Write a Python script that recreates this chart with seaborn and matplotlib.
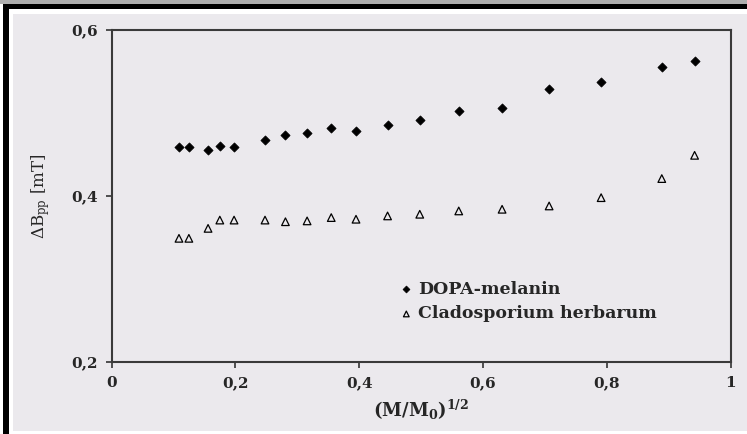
import matplotlib
matplotlib.use("Agg")
import matplotlib.pyplot as plt
from matplotlib.patches import Rectangle
import seaborn as sns
import pandas as pd

# ---- data ----
x_vals = [0.109, 0.125, 0.156, 0.175, 0.198, 0.248, 0.281, 0.316, 0.355,
          0.395, 0.446, 0.498, 0.561, 0.631, 0.707, 0.791, 0.889, 0.942]
dopa_melanin = [0.459, 0.459, 0.455, 0.460, 0.459, 0.467, 0.474, 0.476, 0.482,
                0.478, 0.486, 0.491, 0.503, 0.506, 0.529, 0.537, 0.555, 0.563]
cladosporium = [0.349, 0.349, 0.361, 0.371, 0.371, 0.371, 0.369, 0.370, 0.374,
                0.372, 0.376, 0.378, 0.382, 0.384, 0.388, 0.398, 0.421, 0.449]
series_names = ["DOPA-melanin", "Cladosporium herbarum"]
x_ticks = [0, 0.2, 0.4, 0.6, 0.8, 1.0]
x_ticklabels = ["0", "0,2", "0,4", "0,6", "0,8", "1"]
y_ticks = [0.2, 0.4, 0.6]
y_ticklabels = ["0,2", "0,4", "0,6"]

df_dopa = pd.DataFrame({"x": x_vals, "y": dopa_melanin})
df_clad = pd.DataFrame({"x": x_vals, "y": cladosporium})

sns.set_style("white")
plt.rcParams["font.family"] = ["DejaVu Serif"]
plt.rcParams["mathtext.fontset"] = "custom"
plt.rcParams["mathtext.rm"] = "DejaVu Serif"
plt.rcParams["mathtext.it"] = "DejaVu Serif"
plt.rcParams["mathtext.bf"] = "DejaVu Serif:bold"

W, H = 747, 434
fig = plt.figure(figsize=(W / 100, H / 100), dpi=100)
fig.patch.set_facecolor("white")

def px_rect(x0, y0, x1, y1, color, z=-10):
    fig.patches.append(Rectangle((x0 / W, 1 - y1 / H), (x1 - x0) / W, (y1 - y0) / H,
                                 transform=fig.transFigure, facecolor=color,
                                 edgecolor="none", zorder=z))

panel = "#ebe9ed"
px_rect(0, 0, W, 4, "#aeaeae")          # top gray strip
px_rect(13, 14, W, 431, panel)         # panel
px_rect(3, 4, W, 9, "black")            # top black border
px_rect(3, 4, 9, H, "black")            # left black border

ax = fig.add_axes([111.5 / W, 1 - 362 / H, (730.5 - 111.5) / W, (362 - 30) / H])
ax.set_zorder(5)
ax.set_facecolor(panel)

sns.scatterplot(data=df_dopa, x="x", y="y", ax=ax, marker="D", s=22,
                color="black", edgecolor="black", linewidth=0.5,
                label=series_names[0], zorder=3)
sns.scatterplot(data=df_clad, x="x", y="y", ax=ax, marker="^", s=30,
                facecolor="none", edgecolor="black", linewidth=0.9,
                label=series_names[1], zorder=3)

ax.set_xlim(0, 1)
ax.set_ylim(0.2, 0.6)
ax.set_xticks(x_ticks)
ax.set_xticklabels(x_ticklabels)
ax.set_yticks(y_ticks)
ax.set_yticklabels(y_ticklabels)
for lab in ax.get_xticklabels() + ax.get_yticklabels():
    lab.set_fontweight("bold")
    lab.set_fontsize(11)
ax.tick_params(axis="both", direction="out", length=4, width=1.2, color="#333333",
               left=True, bottom=True)
ax.tick_params(axis="x", pad=6)
ax.tick_params(axis="y", pad=6)

for sp in ax.spines.values():
    sp.set_color("#3a3a3a")
    sp.set_linewidth(1.5)
    sp.set_visible(True)

ax.set_xlabel(r"$\mathbf{(M/M_0)^{1/2}}$", fontsize=13, labelpad=6)
ax.set_ylabel(r"$\Delta$B$_{\mathrm{pp}}$ [mT]", fontsize=12, labelpad=14)

leg = ax.legend(loc="upper left", bbox_to_anchor=(0.437, 0.292), frameon=False,
                prop={"family": "DejaVu Serif", "weight": "bold", "size": 12.5},
                handletextpad=0.2, labelspacing=0.45, markerscale=0.75,
                handlelength=1.0)

fig.savefig("out.png", dpi=100, facecolor=fig.get_facecolor())
